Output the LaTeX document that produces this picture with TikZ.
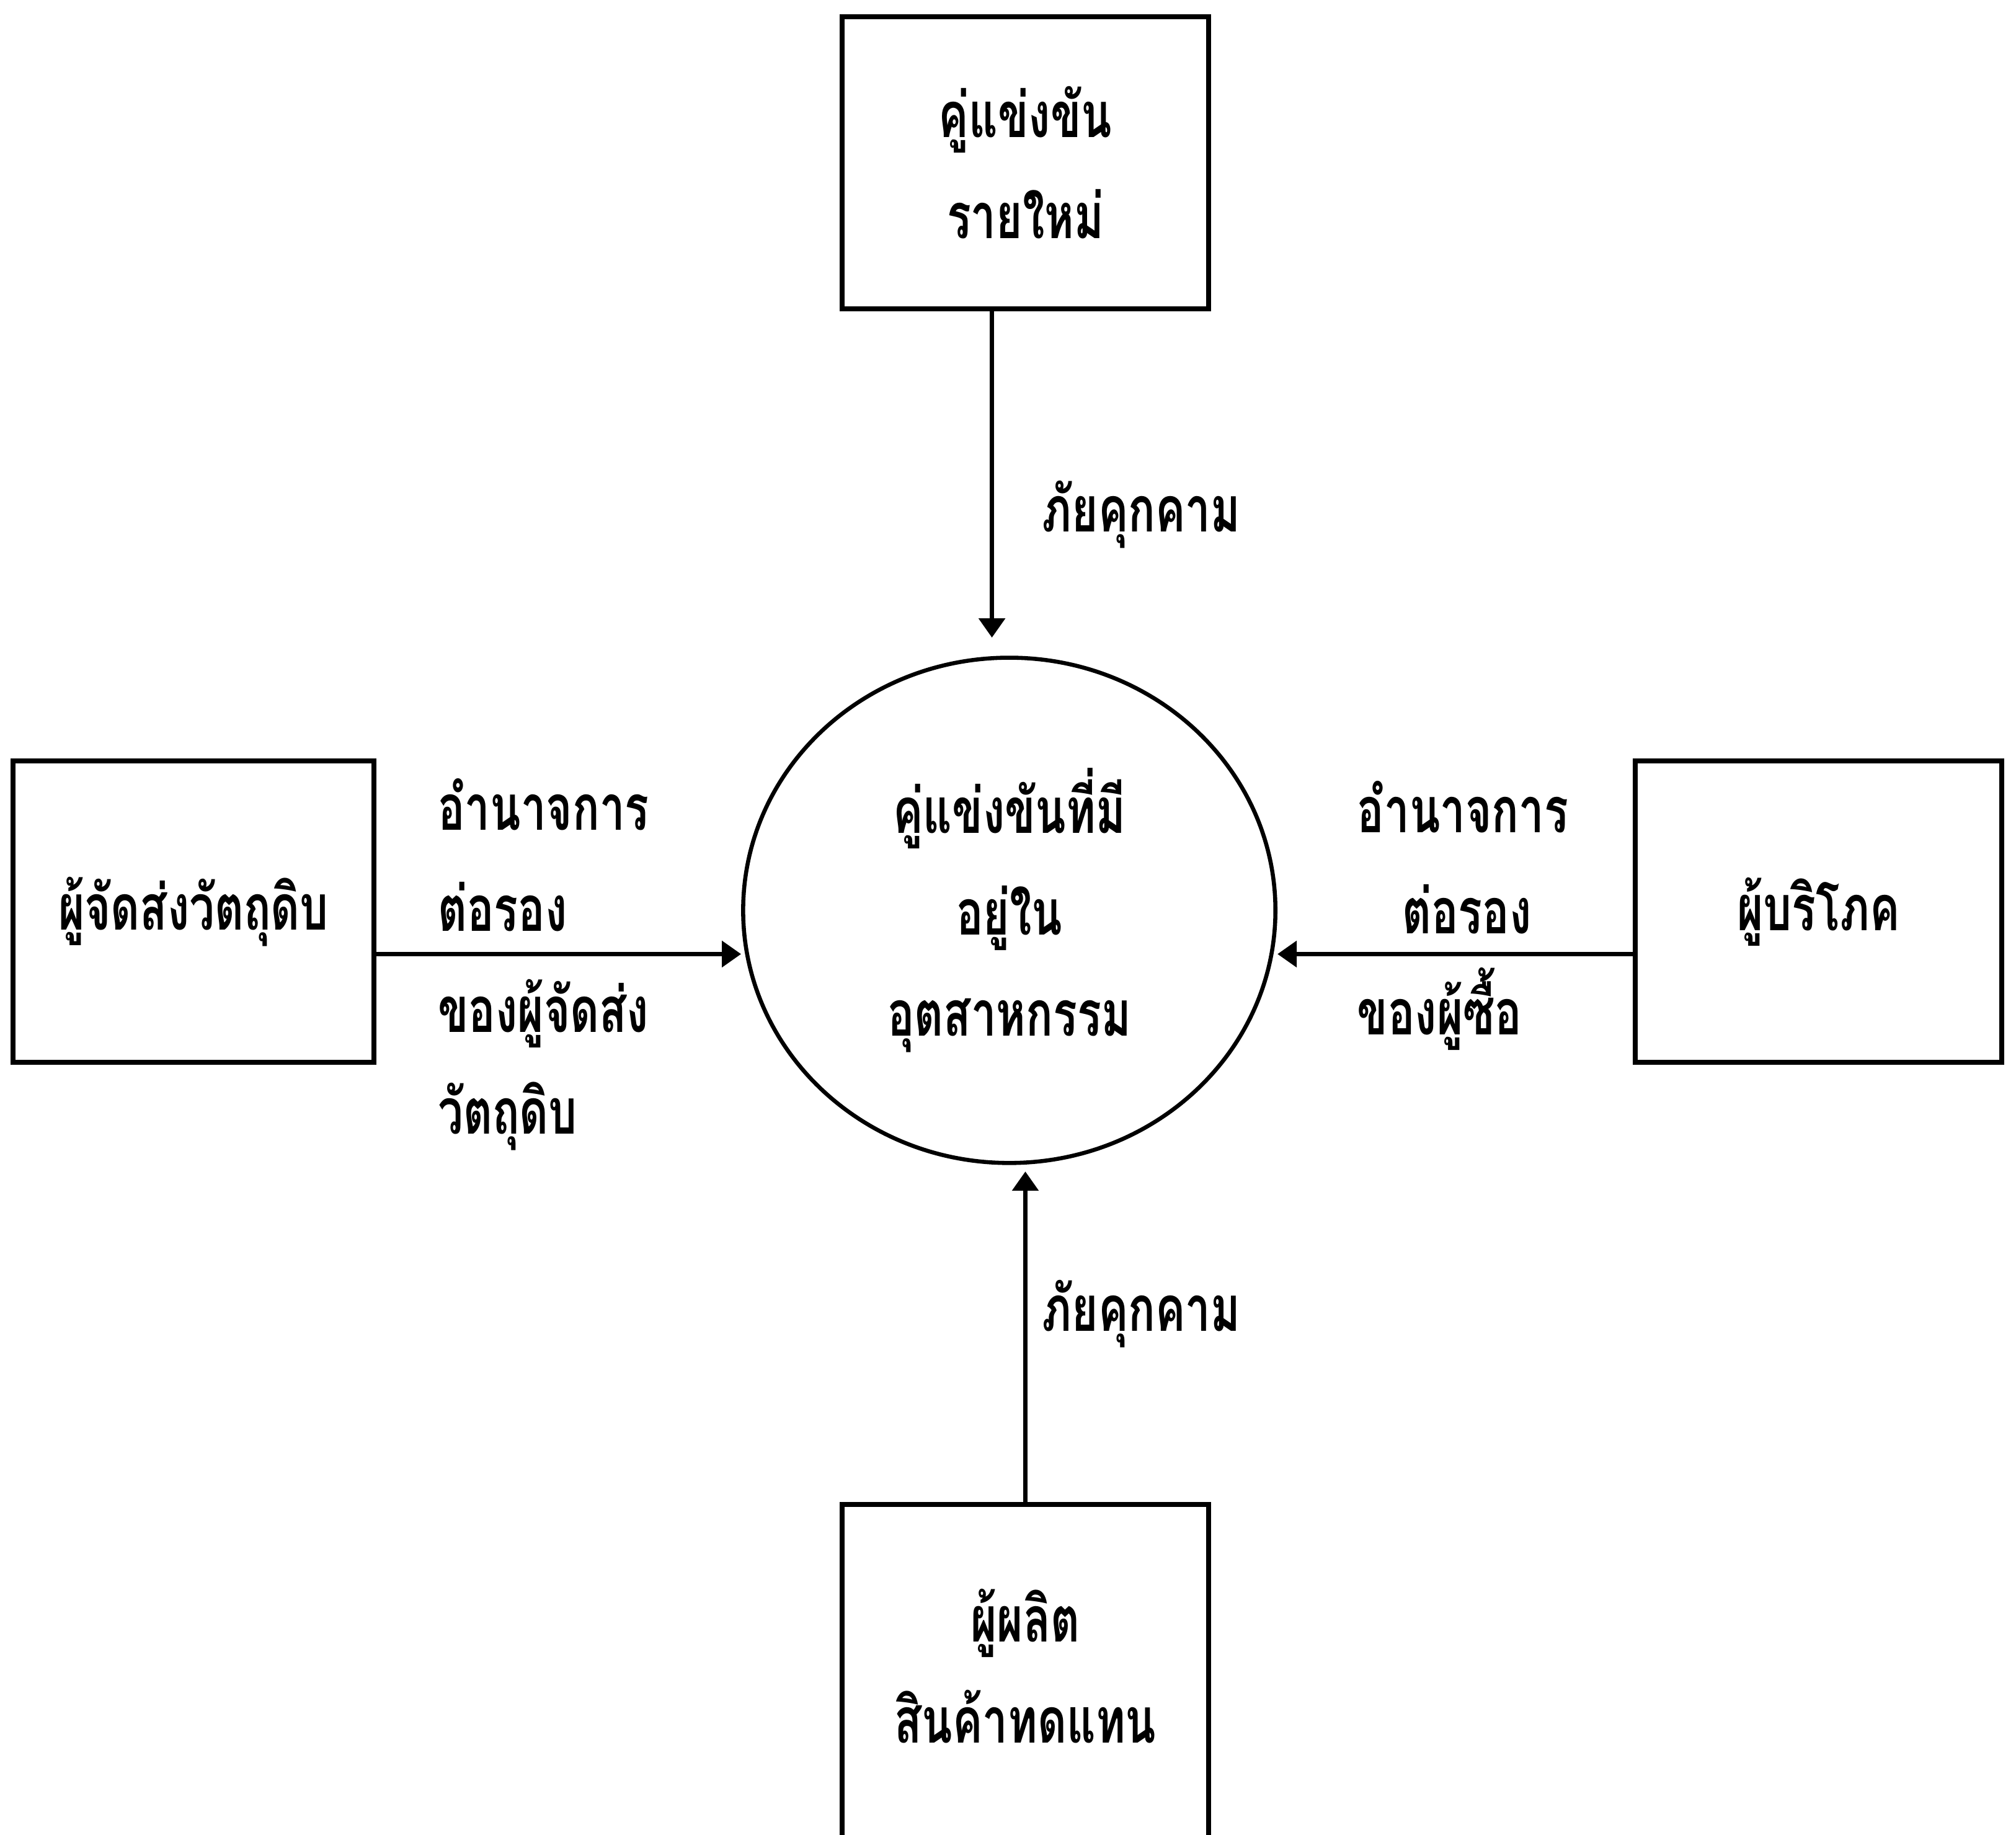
\documentclass[tikz,border=0pt]{standalone}
\usepackage{fontspec}
\newfontfamily\thaifont[Script=Thai,FakeStretch=0.71]{Loma}
\usetikzlibrary{shapes.geometric,arrows.meta}
\tikzset{
  box/.style={draw,line width=1.1pt,minimum width=28.5mm,align=center},
  rivalry/.style={draw,ellipse,line width=0.9pt,minimum width=41.4mm,
    minimum height=39.3mm,inner sep=0pt,align=center},
  tag/.style={anchor=west,align=left,inner sep=0pt}
}
\begin{document}
\begin{tikzpicture}[x=0.1mm,y=-0.1mm,
    font={\thaifont\bfseries\fontsize{14pt}{22.4pt}\selectfont}]
      \clip (0,0) rectangle (1568,1427);
      \draw
        (797.5,126.5) node[box,minimum height=22.7mm] (new){คู่แข่งขัน\\รายใหม่}
        (150.5,709) node[box,minimum width=28.1mm,minimum height=23.4mm] (supplier){ผู้จัดส่งวัตถุดิบ}
        (1414.5,709) node[box,minimum height=23.4mm] (buyer){ผู้บริโภค}
        (797.5,1335) node[box,minimum height=33mm] (subst){ผู้ผลิต\\สินค้าทดแทน\\\mbox{}}
        (785,708) node[rivalry] (rivals){คู่แข่งขันที่มี\\อยู่ใน\\อุตสาหกรรม};
      \draw
        (810,400) node[tag] (threatnew){ภัยคุกคาม}
        (810,1022) node[tag] (threatsubst){ภัยคุกคาม}
        (340,750) node[tag] (supplierpower){อำนาจการ\\ต่อรอง\\ของผู้จัดส่ง\\วัตถุดิบ}
        (1055,712) node[tag] (buyerpower){อำนาจการ\\\hspace{3.5mm}ต่อรอง\\ของผู้ซื้อ};
      \coordinate (newout) at ([xshift=-2.6mm]new.south);
      \coordinate (supplierout) at ([yshift=-3.3mm]supplier.east);
      \coordinate (buyerout) at ([yshift=-3.3mm]buyer.west);
      \begin{scope}[-{Triangle[length=1.5mm,width=2mm]},line width=1pt]
        \draw[shorten >=1.4mm] (newout) to (newout |- rivals.north);
        \draw[shorten >=0.5mm] (subst.north) to (subst.north |- rivals.south);
        \draw (supplierout) to (supplierout -| rivals.west);
        \draw (buyerout) to (buyerout -| rivals.east);
      \end{scope}
    \end{tikzpicture}
\end{document}
